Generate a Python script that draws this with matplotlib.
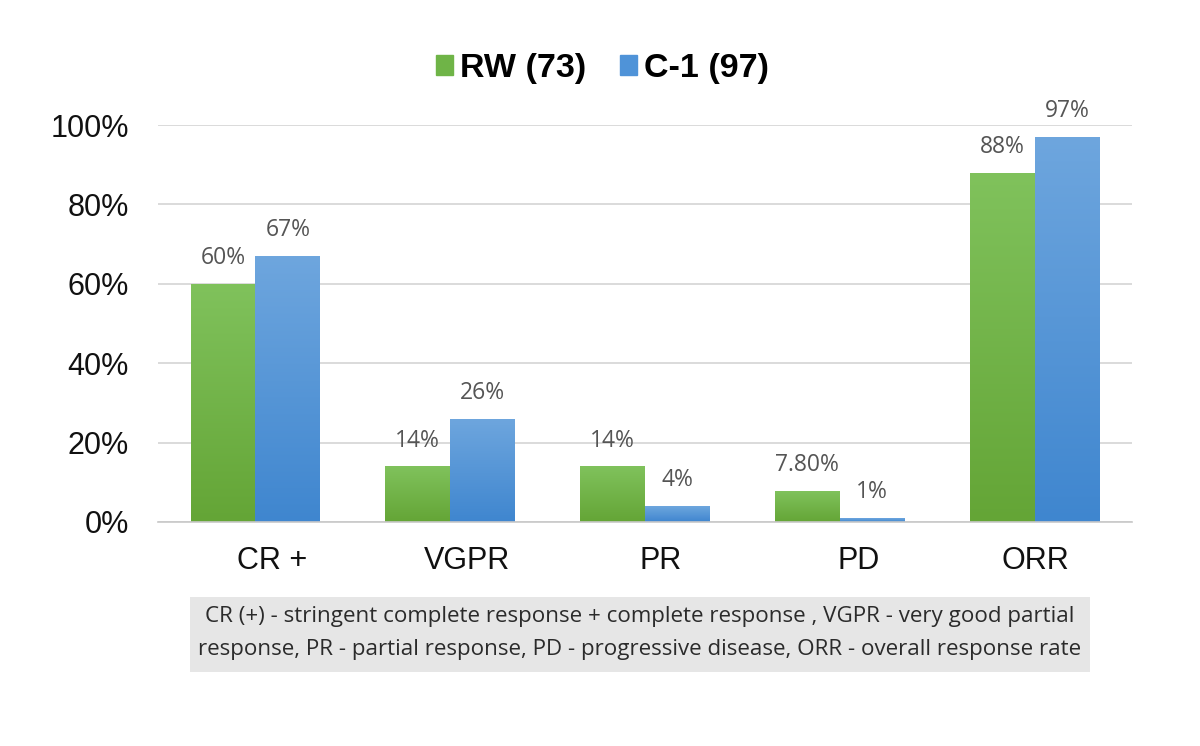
import matplotlib.pyplot as plt
import matplotlib.patches as mpatches
from matplotlib.colors import LinearSegmentedColormap
import numpy as np

categories = ['CR +', 'VGPR', 'PR', 'PD', 'ORR']
rw = [60, 14, 14, 7.8, 88]
c1 = [67, 26, 4, 1, 97]
rw_labels = ['60%', '14%', '14%', '7.80%', '88%']
c1_labels = ['67%', '26%', '4%', '1%', '97%']
series_names = ['RW (73)', 'C-1 (97)']
caption = ('CR (+) - stringent complete response + complete response , VGPR - very good partial\n'
           'response, PR - partial response, PD - progressive disease, ORR - overall response rate')

# category labels in the original sit a little right of the bar groups
label_shift = [17, 17, 16, 19, 1]

green = '#6fb447'
blue = '#4f93d8'
green_cm = LinearSegmentedColormap.from_list('g', ['#64a536', '#80c25c'])
blue_cm = LinearSegmentedColormap.from_list('b', ['#3f86cf', '#6ea6de'])

fig = plt.figure(figsize=(12, 7.46), dpi=100)
ax = fig.add_axes([0.1317, 0.3003, 0.8116, 0.5321])

x = np.arange(len(categories))
w = 1 / 3
bars_rw = ax.bar(x - w / 2, rw, w, color=green, zorder=2)
bars_c1 = ax.bar(x + w / 2, c1, w, color=blue, zorder=2)

# gradient fill, lighter at top
grad = np.linspace(0, 1, 256).reshape(-1, 1)
for bars, cm in [(bars_rw, green_cm), (bars_c1, blue_cm)]:
    for b in bars:
        x0, y0 = b.get_x(), b.get_y()
        im = ax.imshow(grad, cmap=cm, aspect='auto', origin='lower',
                       extent=[x0, x0 + b.get_width(), y0, y0 + b.get_height()],
                       zorder=2.5)
        im.set_clip_path(b)

for bars, labels in [(bars_rw, rw_labels), (bars_c1, c1_labels)]:
    for b, lab in zip(bars, labels):
        ax.annotate(lab, (b.get_x() + b.get_width() / 2, b.get_height()),
                    xytext=(0, 10), textcoords='offset points',
                    ha='center', va='bottom', fontsize=16.5, color='#555555',
                    family='Open Sans')

ax.set_xlim(-0.5, len(categories) - 0.5)
ax.set_ylim(0, 100)
ax.set_yticks(range(0, 101, 20))
ax.set_yticklabels([f'{v}%' for v in range(0, 101, 20)])
ax.set_xticks(x)
ax.set_xticklabels([])
ax.tick_params(axis='both', length=0, labelsize=22, labelcolor='#111111')
ax.tick_params(axis='y', pad=21)
for lab in ax.get_yticklabels():
    lab.set_family('Liberation Sans')

for xi, cat, dx in zip(x, categories, label_shift):
    ax.annotate(cat, (xi, 0), xycoords=('data', 'axes fraction'),
                xytext=(dx, -39), textcoords='offset pixels',
                ha='center', va='center', fontsize=22, color='#111111',
                family='Liberation Sans')

ax.yaxis.grid(True, color='#d4d4d4', linewidth=1.2, zorder=0)
ax.set_axisbelow(True)
for s in ['top', 'right', 'left']:
    ax.spines[s].set_visible(False)
ax.spines['bottom'].set_color('#c8c8c8')
ax.spines['bottom'].set_linewidth(1.2)

handles = [mpatches.Patch(color=green), mpatches.Patch(color=blue)]
fig.legend(handles, series_names, loc='center', bbox_to_anchor=(0.502, 0.908),
           ncol=2, frameon=False, handlelength=0.5, handleheight=0.5,
           handletextpad=0.2, columnspacing=1.0,
           prop={'family': 'Liberation Sans', 'weight': 'bold', 'size': 24.5})

# caption box
fig.patches.append(mpatches.Rectangle((190 / 1200, 1 - 672 / 746), 900 / 1200, 75 / 746,
                                      transform=fig.transFigure, facecolor='#e6e6e6',
                                      edgecolor='none'))
fig.text(640 / 1200, 1 - 633 / 746, caption, ha='center', va='center',
         fontsize=16.1, color='#2b2b2b', family='Open Sans', linespacing=1.8)

fig.savefig('out.png', dpi=100)
